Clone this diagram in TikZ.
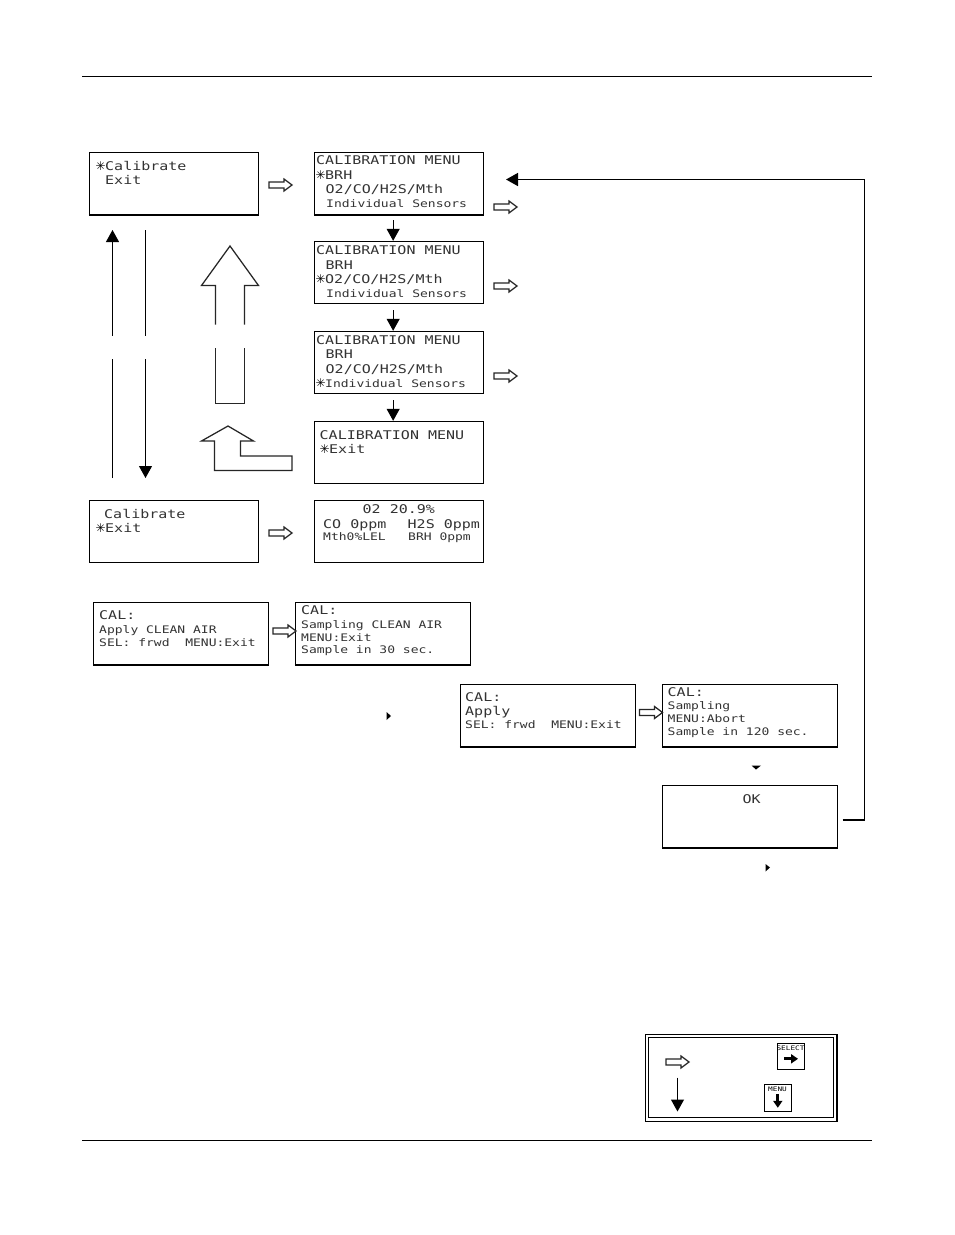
\documentclass[tikz,border=0pt]{standalone}
\usepackage{fontspec}
\usetikzlibrary{arrows.meta,calc}
\newfontfamily\lcdfont[FakeStretch=1.25]{DejaVu Sans Mono}
\newfontfamily\symfont{DejaVu Sans}
\newcommand{\stc}{\makebox[9pt][c]{\symfont\fontsize{12}{12}\selectfont\textcolor{black}{✳}}}
\tikzset{
  lcdbox/.style={draw=black,line width=1pt,fill=white,inner sep=0pt,anchor=north west},
  big/.style={inner sep=0pt,anchor=base west,text=black!80,font=\lcdfont\fontsize{12}{12}\selectfont},
  small/.style={inner sep=0pt,anchor=base west,text=black!80,font=\lcdfont\fontsize{10.4}{10.4}\selectfont},
  tiny/.style={inner sep=0pt,anchor=base,text=black,font=\lcdfont\fontsize{6.2}{6.2}\selectfont},
  solidarrow/.style={draw=black,line width=1pt,-{Triangle[length=12pt,width=13pt]}},
  plainline/.style={draw=black,line width=1pt},
  heavyline/.style={draw=black,line width=2pt},
  hollow/.style={draw=black!85,line width=1.25pt,fill=white,line join=miter},
  tickmark/.style={fill=black},
  keyarrow/.style={draw=black,line width=3pt,-{Triangle[length=7pt,width=9pt]}}
}
\newcommand{\lcdb}[6]{% name,x0,y0,x1,y1,heavy?
  \node[lcdbox,minimum width=#4pt-#2pt+0.7pt,minimum height=#5pt-#3pt+0.7pt] (#1) at (#2-0.7,#3-0.7) {};
  #6
}
\newcommand{\heavy}[1]{\draw[heavyline] (#1.south west) -- (#1.south east);}
\newcommand{\harrow}[2]{% left x, centre y
  \draw[hollow] (#1,#2-3) -- (#1+15,#2-3) -- (#1+15,#2-6) -- (#1+23,#2) -- (#1+15,#2+6) -- (#1+15,#2+3) -- (#1,#2+3) -- cycle;
}
\begin{document}
\begin{tikzpicture}[x=1pt,y=-1pt]
\useasboundingbox (0,0) rectangle (954,1235);
\fill[white] (0,0) rectangle (954,1235);
% page rules
\coordinate (rt1) at (82,76); \coordinate (rt2) at (872,76);
\coordinate (rb1) at (82,1140); \coordinate (rb2) at (872,1140);
\draw[plainline] (rt1) -- (rt2);
\draw[plainline] (rb1) -- (rb2);
% boxes
\lcdb{a1}{89.5}{152.5}{258}{214}{\heavy{a1}}
\lcdb{b1}{314.5}{152.5}{482.5}{214}{\heavy{b1}}
\lcdb{b2}{314.5}{241.5}{482.5}{303}{}
\lcdb{b3}{314.5}{331.5}{482.5}{393}{}
\lcdb{b4}{314.5}{421.5}{482.5}{483}{}
\lcdb{b5}{314.5}{500.5}{482.5}{561.5}{}
\lcdb{a2}{89.5}{500.5}{258}{561.5}{}
\lcdb{c1}{93.5}{602.5}{267.5}{664}{\heavy{c1}}
\lcdb{c2}{295.5}{602.5}{469.5}{664}{\heavy{c2}}
\lcdb{d1}{460.5}{684.5}{634.5}{746}{\heavy{d1}}
\lcdb{d2}{662.5}{684.5}{836.5}{746}{\heavy{d2}}
\lcdb{d3}{662.5}{785.5}{836.5}{847}{\heavy{d3}}
% texts
\node[big] (ta1) at (96,170) {\stc Calibrate};
\node[big] (ta2) at (105,184) {Exit};
\node[big] (tb11) at (316,164.5) {CALIBRATION MENU};
\node[big] (tb12) at (316,179.5) {\stc BRH};
\node[big] (tb13) at (325.5,193.5) {O2/CO/H2S/Mth};
\node[small] (tb14) at (326,207.5) {Individual Sensors};
\node[big] (tb21) at (316,254.5) {CALIBRATION MENU};
\node[big] (tb22) at (325.5,269.5) {BRH};
\node[big] (tb23) at (316,283.5) {\stc O2/CO/H2S/Mth};
\node[small] (tb24) at (326,297.5) {Individual Sensors};
\node[big] (tb31) at (316,344.5) {CALIBRATION MENU};
\node[big] (tb32) at (325.5,358.5) {BRH};
\node[big] (tb33) at (325.5,373.5) {O2/CO/H2S/Mth};
\node[small] (tb34) at (316,387.5) {\stc Individual Sensors};
\node[big] (tb41) at (319.5,439) {CALIBRATION MENU};
\node[big] (tb42) at (320,453) {\stc Exit};
\node[big] (ta21) at (104,518) {Calibrate};
\node[big] (ta22) at (96,532) {\stc Exit};
\node[big] (tb51) at (362.5,513) {02 20.9\%};
\node[big] (tb52) at (323,528) {CO 0ppm};
\node[big] (tb53) at (407.5,528) {H2S 0ppm};
\node[small] (tb54) at (323,540.5) {Mth0\%LEL};
\node[small] (tb55) at (408,540.5) {BRH 0ppm};
\node[big] (tc11) at (99,619.5) {CAL:};
\node[small] (tc12) at (99,633.5) {Apply CLEAN AIR};
\node[small] (tc13) at (99,646.5) {SEL: frwd~~MENU:Exit};
\node[big] (tc21) at (301,614.5) {CAL:};
\node[small] (tc22) at (301,628.5) {Sampling CLEAN AIR};
\node[small] (tc23) at (301,641) {MENU:Exit};
\node[small] (tc24) at (301,653.5) {Sample in 30 sec.};
\node[big] (td11) at (465,701) {CAL:};
\node[big] (td12) at (465,715) {Apply};
\node[small] (td13) at (465,728.5) {SEL: frwd~~MENU:Exit};
\node[big] (td21) at (667.5,696) {CAL:};
\node[small] (td22) at (667.5,709.5) {Sampling};
\node[small] (td23) at (667.5,722.5) {MENU:Abort};
\node[small] (td24) at (667.5,735.5) {Sample in 120 sec.};
\node[big] (td31) at (742.5,803) {OK};
% hollow arrows
\harrow{269}{185}
\harrow{494}{207}
\harrow{494}{286}
\harrow{494}{376}
\harrow{269}{533}
\harrow{273}{631}
\harrow{639.5}{712.5}
\harrow{666}{1062}
% black arrows between menus
\draw[solidarrow] ([xshift=-5.5pt,yshift=-5pt]b1.south) -- ([xshift=-5.5pt]b2.north);
\draw[solidarrow] ([xshift=-5.5pt,yshift=-6pt]b2.south) -- ([xshift=-5.5pt]b3.north);
\draw[solidarrow] ([xshift=-5.5pt,yshift=-6pt]b3.south) -- ([xshift=-5.5pt]b4.north);
% long vertical arrows with gaps
\coordinate (u1) at (112.5,478); \coordinate (u2) at (112.5,359);
\coordinate (u3) at (112.5,335.5); \coordinate (u4) at (112.5,230);
\draw[plainline] (u1) -- (u2);
\draw[solidarrow] (u3) -- (u4);
\coordinate (v1) at (145.5,230); \coordinate (v2) at (145.5,335.5);
\coordinate (v3) at (145.5,359); \coordinate (v4) at (145.5,478);
\draw[plainline] (v1) -- (v2);
\draw[solidarrow] (v3) -- (v4);
% large hollow up arrow, with gap
\draw[hollow] (215.5,324.5) -- (215.5,285.5) -- (201.5,285.5) -- (230,246) -- (258.5,285.5) -- (244.5,285.5) -- (244.5,324.5);
\draw[hollow,fill=none] (215.5,348) -- (215.5,403.5) -- (244.5,403.5) -- (244.5,348);
% bent hollow arrow
\draw[hollow] (228,426) -- (253.5,441) -- (240.5,441) -- (240.5,456) -- (292,456) -- (292,470.5) -- (214.5,470.5) -- (214.5,441) -- (201.5,441) -- cycle;
% return connector
\coordinate (ret) at (864.5,179.5);
\coordinate (retend) at (b1.north east |- ret);
\draw[draw=black,line width=1.5pt,-{Triangle[length=12pt,width=13pt]}] ([xshift=5pt,yshift=28pt]d3.south east) -| (ret) -- ([xshift=22.5pt]retend);
% small marks
\fill[tickmark] (386.5,712) -- (391,716) -- (386.5,720) -- cycle;
\fill[tickmark] (751.5,765.5) -- (761,765.5) -- (756,769.5) -- cycle;
\fill[tickmark] (765.5,864) -- (770,867.5) -- (765.5,871.5) -- cycle;
% legend
\node[draw=black,line width=1.5pt,inner sep=0pt,anchor=north west,minimum width=191.5pt,minimum height=87pt] (lg) at (644.8,1033.8) {};
\node[draw=black,line width=1pt,inner sep=0pt,anchor=north west,minimum width=185.5pt,minimum height=80pt] (lgi) at (647.8,1036.8) {};
\coordinate (la1) at (677.5,1077.5); \coordinate (la2) at (677.5,1111.5);
\draw[solidarrow] (la1) -- (la2);
\node[lcdbox,minimum width=26.5pt,minimum height=26pt] (ks) at (777.3,1042.8) {};
\node[tiny] (kst) at (790.5,1050.5) {SELECT};
\draw[keyarrow] ([xshift=-7pt,yshift=11pt]ks.south) -- ([xshift=7pt,yshift=11pt]ks.south);
\node[lcdbox,minimum width=27pt,minimum height=27pt] (km) at (763.8,1083.8) {};
\node[tiny] (kmt) at (777.5,1091) {MENU};
\draw[keyarrow] ([yshift=-10pt]km.north) -- ([yshift=-24pt]km.north);
\end{tikzpicture}
\end{document}
